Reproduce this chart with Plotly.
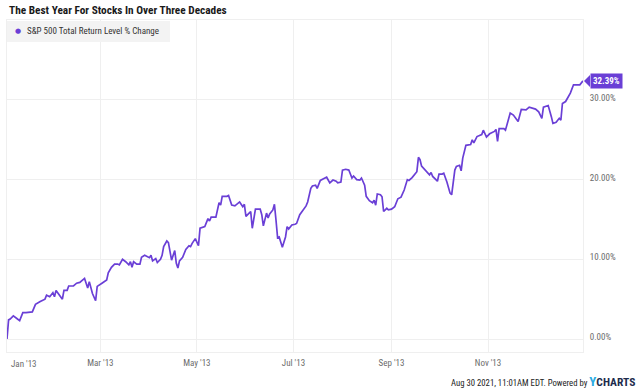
import plotly.graph_objects as go

title_text = "The Best Year For Stocks In Over Three Decades"
series_name = "S&P 500 Total Return Level % Change"
footer_text = "Aug 30 2021, 11:01AM EDT. Powered by "

dates = [
    "2013-01-01", "2013-01-02", "2013-01-03", "2013-01-05", "2013-01-07", "2013-01-09",
    "2013-01-11", "2013-01-13", "2013-01-17", "2013-01-19", "2013-01-22", "2013-01-25",
    "2013-01-26", "2013-01-28", "2013-01-30", "2013-01-31", "2013-02-01", "2013-02-03",
    "2013-02-05", "2013-02-06", "2013-02-08", "2013-02-09", "2013-02-12", "2013-02-14",
    "2013-02-16", "2013-02-19", "2013-02-21", "2013-02-22", "2013-02-24", "2013-02-26",
    "2013-02-27", "2013-03-02", "2013-03-05", "2013-03-06", "2013-03-08", "2013-03-10",
    "2013-03-12", "2013-03-13", "2013-03-15", "2013-03-17", "2013-03-19", "2013-03-20",
    "2013-03-21", "2013-03-22", "2013-03-24", "2013-03-26", "2013-03-27", "2013-03-29",
    "2013-04-01", "2013-04-02", "2013-04-03", "2013-04-05", "2013-04-06", "2013-04-08",
    "2013-04-09", "2013-04-10", "2013-04-12", "2013-04-13", "2013-04-14", "2013-04-15",
    "2013-04-17", "2013-04-18", "2013-04-19", "2013-04-20", "2013-04-22", "2013-04-24",
    "2013-04-26", "2013-04-27", "2013-04-28", "2013-04-30", "2013-05-02", "2013-05-03",
    "2013-05-06", "2013-05-08", "2013-05-09", "2013-05-10", "2013-05-13", "2013-05-15",
    "2013-05-16", "2013-05-17", "2013-05-20", "2013-05-21", "2013-05-23", "2013-05-25",
    "2013-05-28", "2013-05-30", "2013-05-31", "2013-06-01", "2013-06-03", "2013-06-04",
    "2013-06-05", "2013-06-07", "2013-06-10", "2013-06-11", "2013-06-12", "2013-06-14",
    "2013-06-15", "2013-06-16", "2013-06-18", "2013-06-19", "2013-06-20", "2013-06-21",
    "2013-06-22", "2013-06-23", "2013-06-24", "2013-06-26", "2013-06-27", "2013-06-28",
    "2013-06-30", "2013-07-02", "2013-07-03", "2013-07-05", "2013-07-07", "2013-07-09",
    "2013-07-10", "2013-07-12", "2013-07-13", "2013-07-15", "2013-07-16", "2013-07-18",
    "2013-07-20", "2013-07-22", "2013-07-24", "2013-07-26", "2013-07-28", "2013-07-29",
    "2013-07-31", "2013-08-01", "2013-08-03", "2013-08-05", "2013-08-07", "2013-08-08",
    "2013-08-10", "2013-08-12", "2013-08-13", "2013-08-15", "2013-08-16", "2013-08-18",
    "2013-08-20", "2013-08-21", "2013-08-22", "2013-08-23", "2013-08-25", "2013-08-26",
    "2013-08-27", "2013-08-29", "2013-08-30", "2013-09-01", "2013-09-03", "2013-09-05",
    "2013-09-07", "2013-09-09", "2013-09-11", "2013-09-12", "2013-09-14", "2013-09-17",
    "2013-09-18", "2013-09-19", "2013-09-20", "2013-09-23", "2013-09-25", "2013-09-26",
    "2013-09-27", "2013-09-30", "2013-10-01", "2013-10-03", "2013-10-04", "2013-10-06",
    "2013-10-08", "2013-10-09", "2013-10-11", "2013-10-12", "2013-10-14", "2013-10-15",
    "2013-10-16", "2013-10-18", "2013-10-21", "2013-10-22", "2013-10-23", "2013-10-25",
    "2013-10-28", "2013-10-29", "2013-10-31", "2013-11-02", "2013-11-05", "2013-11-06",
    "2013-11-07", "2013-11-08", "2013-11-11", "2013-11-12", "2013-11-15", "2013-11-17",
    "2013-11-20", "2013-11-22", "2013-11-25", "2013-11-27", "2013-12-01", "2013-12-03",
    "2013-12-05", "2013-12-06", "2013-12-09", "2013-12-11", "2013-12-12", "2013-12-14",
    "2013-12-16", "2013-12-17", "2013-12-18", "2013-12-20", "2013-12-21", "2013-12-23",
    "2013-12-25", "2013-12-29", "2013-12-31",
]

values = [
    0.0, 2.4, 2.5, 2.9, 2.6, 2.3,
    3.3, 3.3, 3.4, 4.35, 4.7, 5.0,
    5.5, 5.3, 5.8, 5.3, 6.1, 5.6,
    5.0, 6.1, 6.1, 6.65, 6.65, 7.0,
    7.1, 7.6, 6.4, 7.2, 5.7, 4.8,
    6.6, 7.0, 7.4, 8.3, 9.0, 9.4,
    9.4, 9.3, 10.0, 9.7, 9.3, 9.7,
    9.0, 9.7, 9.4, 9.4, 10.25, 10.5,
    10.2, 10.5, 9.8, 10.1, 9.6, 10.0,
    10.5, 11.6, 12.3, 12.1, 11.0, 9.9,
    11.1, 9.5, 8.9, 9.8, 10.25, 11.25,
    11.7, 11.6, 12.0, 12.6, 11.7, 13.9,
    14.1, 15.1, 14.8, 15.3, 15.3, 17.1,
    16.8, 17.9, 17.9, 18.0, 16.8, 16.7,
    17.2, 16.6, 16.9, 15.4, 15.8, 16.0,
    13.9, 16.3, 16.3, 15.6, 14.2, 15.8,
    15.2, 15.7, 16.2, 16.9, 14.9, 12.7,
    12.8, 12.2, 11.5, 12.8, 14.1, 13.8,
    14.3, 14.4, 14.5, 15.6, 16.1, 16.7,
    17.2, 18.9, 19.2, 19.3, 18.9, 19.9,
    20.1, 20.3, 19.6, 19.95, 19.8, 19.6,
    19.7, 21.2, 21.3, 21.2, 20.2, 20.45,
    20.0, 19.95, 20.2, 19.3, 17.9, 17.35,
    17.1, 17.4, 16.8, 18.2, 18.1, 17.85,
    16.0, 16.4, 16.2, 16.3, 16.6, 17.6,
    17.8, 18.7, 20.0, 19.9, 20.25, 21.0,
    22.8, 22.5, 21.7, 21.0, 20.6, 20.9,
    20.4, 19.8, 20.7, 20.7, 20.8, 19.7,
    18.3, 18.1, 21.2, 21.65, 21.8, 21.1,
    22.7, 24.3, 24.4, 25.0, 24.6, 25.4,
    25.65, 26.2, 25.35, 25.75, 26.05, 26.3,
    24.8, 26.4, 26.4, 26.2, 28.35, 28.1,
    27.3, 28.8, 28.75, 29.1, 28.85, 28.5,
    27.7, 29.1, 29.3, 27.9, 27.05, 27.2,
    27.7, 27.45, 29.55, 29.8, 30.2, 30.85,
    31.9, 31.9, 32.39,
]

x_tick_dates = ["2013-01-01", "2013-03-01", "2013-05-01", "2013-07-01", "2013-09-01", "2013-11-01"]
x_tick_labels = ["Jan '13", "Mar '13", "May '13", "Jul '13", "Sep '13", "Nov '13"]
y_tick_values = [0, 10, 20, 30, 40]
y_tick_labels = ["0.00%", "10.00%", "20.00%", "30.00%", ""]

PURPLE = "#6a3fd6"
GRID = "#efefef"
FONT = "Roboto Condensed, Roboto, sans-serif"
TICK_FONT = dict(family=FONT, size=9, color="#6b6b6b")

fig = go.Figure()
fig.add_trace(go.Scatter(
    x=dates, y=values, mode="lines",
    line=dict(color=PURPLE, width=1.7),
    name=series_name, showlegend=False, hoverinfo="skip",
))

fig.update_layout(
    width=640, height=390,
    margin=dict(l=7, r=57, t=20, b=38),
    paper_bgcolor="white", plot_bgcolor="white",
    showlegend=False,
    xaxis=dict(
        type="date", range=["2013-01-01", "2013-12-31"],
        tickvals=x_tick_dates,
        ticktext=[""] + x_tick_labels[1:],
        showgrid=True, gridcolor=GRID, gridwidth=1,
        showline=True, linecolor=GRID, mirror=True,
        zeroline=False, ticks="", tickfont=TICK_FONT,
        ticklabelstandoff=2,
    ),
    yaxis=dict(
        side="right", range=[-1.63, 40.03],
        tickvals=y_tick_values, ticktext=y_tick_labels,
        showgrid=True, gridcolor=GRID, gridwidth=1,
        showline=True, linecolor=GRID, mirror=True,
        zeroline=False, ticks="", tickfont=TICK_FONT,
        ticklabelstandoff=4, ticklabelshift=-2,
    ),
)

# Jan label kept inside the chart (first tick sits on the left edge)
fig.add_annotation(
    x=x_tick_dates[0], xref="x", y=0, yref="paper",
    text=x_tick_labels[0], showarrow=False,
    xanchor="left", yanchor="middle", xshift=2, yshift=-12,
    font=TICK_FONT,
)

# Title
fig.add_annotation(
    x=0, xref="paper", y=1, yref="paper", yshift=10,
    text="<b>" + title_text + "</b>", showarrow=False,
    xanchor="left", yanchor="middle",
    font=dict(family=FONT, size=11.3, color="#1a1a1a"),
)

# Legend box
fig.add_shape(
    type="rect", xref="paper", yref="paper",
    x0=0, x1=163 / 576, y0=1 - 22 / 332, y1=1 - 1 / 332,
    fillcolor="#f3f3f3", line=dict(width=0), layer="above",
)
fig.add_annotation(
    x=0, xref="paper", y=1, yref="paper", xshift=6, yshift=-11,
    text="●", showarrow=False,
    xanchor="left", yanchor="middle", font=dict(family="DejaVu Sans", size=7, color=PURPLE),
)
fig.add_annotation(
    x=0, xref="paper", y=1, yref="paper", xshift=18, yshift=-11,
    text=series_name, showarrow=False,
    xanchor="left", yanchor="middle",
    font=dict(family=FONT, size=9, color="#333333"),
)

# Last value tag
last_val = values[-1]
fig.add_shape(
    type="path", xref="paper", yref="y", ysizemode="pixel", yanchor=last_val,
    path="M 1.0017 0 L 1.0122 6 L 1.0122 -6 Z",
    fillcolor=PURPLE, line=dict(width=0),
)
fig.add_annotation(
    x=1, xref="paper", y=last_val, yref="y", xshift=7,
    text="<b>%.2f%%</b>" % last_val, showarrow=False,
    xanchor="left", yanchor="middle",
    bgcolor=PURPLE, borderpad=2,
    font=dict(family=FONT, size=9, color="white"),
)

# Footer
fig.add_annotation(
    x=1, xref="paper", y=0, yref="paper", xshift=54, yshift=-29,
    text=footer_text + "<b><span style='color:#29abe2;font-size:13px'>Y</span>"
         "<span style='color:#1d2b4c;font-size:11.5px'>CHARTS</span></b>",
    showarrow=False, xanchor="right", yanchor="middle",
    font=dict(family=FONT, size=8.7, color="#222222"),
)

fig.write_html(
    "out.html",
    config={"displayModeBar": False},
    post_script="document.body.style.margin='0';document.body.style.overflow='hidden';",
)
